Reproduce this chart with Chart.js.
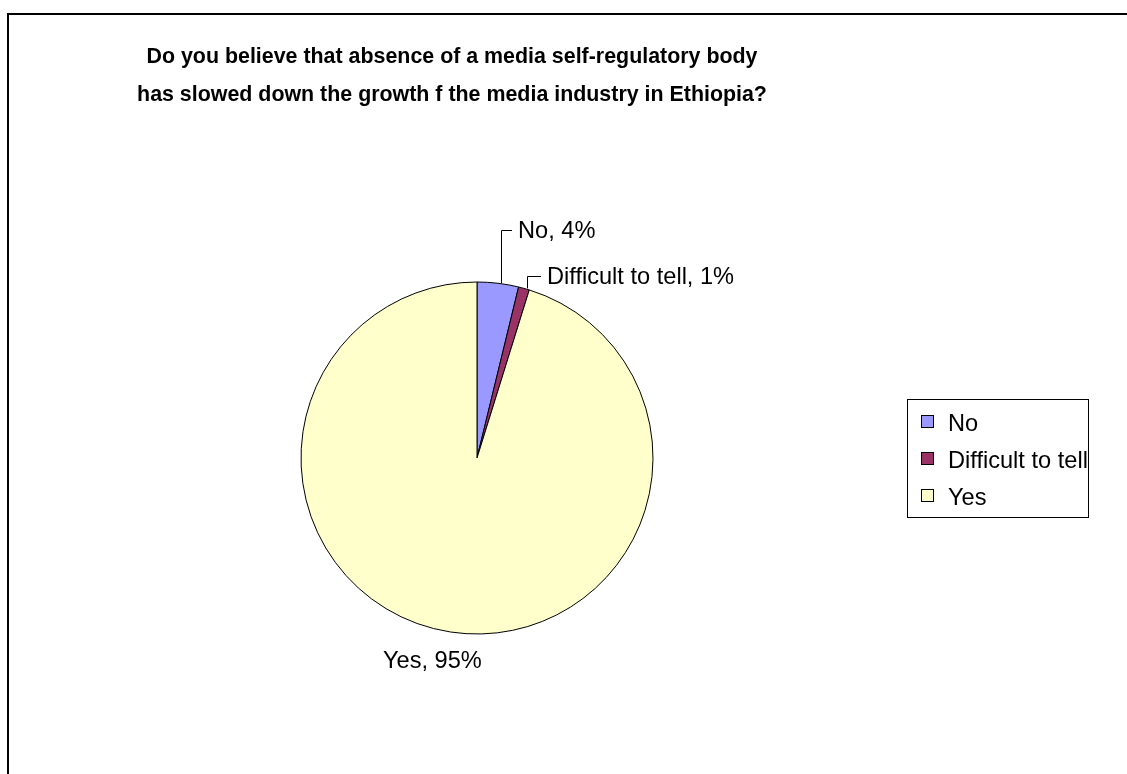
<!DOCTYPE html>
<html>
<head>
<meta charset="utf-8">
<title>Media self-regulatory body</title>
<script src="https://cdn.jsdelivr.net/npm/chart.js@4.4.0/dist/chart.umd.min.js"></script>
<style>
  html, body { margin: 0; padding: 0; background: #fff; }
  canvas { display: block; }
</style>
</head>
<body>
<canvas id="pieChart" width="1127" height="774"></canvas>
<script>
const categories = ["No", "Difficult to tell", "Yes"];
const values = [3.8, 1.0, 95.2];
const colors = ["#9999FF", "#993366", "#FFFFCC"];
const titleLines = [
  "Do you believe that absence of a media self-regulatory body",
  "has slowed down the growth f the media industry in Ethiopia?"
];

const FONT = "'Liberation Sans', Arial, sans-serif";

// where the data labels sit (text left x, baseline y) and whether they get a leader
const labelSpots = [
  { x: 518, y: 238, leader: true },
  { x: 547, y: 284, leader: true },
  { x: 383, y: 668, leader: false }
];

function pct(v) {
  const total = values.reduce((a, b) => a + b, 0);
  return Math.round(v / total * 100) + "%";
}

const decor = {
  id: "decor",
  afterDraw(chart) {
    const ctx = chart.ctx;
    ctx.save();

    // outer frame (only top and left visible)
    ctx.strokeStyle = "#000";
    ctx.lineWidth = 2;
    ctx.beginPath();
    ctx.moveTo(8, 774);
    ctx.lineTo(8, 14);
    ctx.lineTo(1127, 14);
    ctx.stroke();

    // title
    ctx.fillStyle = "#000";
    ctx.font = "bold 21.4px " + FONT;
    ctx.textAlign = "center";
    ctx.textBaseline = "alphabetic";
    ctx.fillText(titleLines[0], 452, 63);
    ctx.fillText(titleLines[1], 452, 101);

    // data labels with leader lines
    const arcs = chart.getDatasetMeta(0).data;
    ctx.font = "23.6px " + FONT;
    ctx.textAlign = "left";
    ctx.lineWidth = 1;
    arcs.forEach((arc, i) => {
      const spot = labelSpots[i];
      const mid = (arc.startAngle + arc.endAngle) / 2;
      if (spot.leader) {
        const mx = Math.round(arc.x + Math.cos(mid) * arc.outerRadius * 1.0) + 3.5;
        const my = arc.y + Math.sin(mid) * arc.outerRadius;
        const ly = Math.round(spot.y - 8) + 0.5;
        ctx.beginPath();
        ctx.moveTo(mx, my);
        ctx.lineTo(mx, ly);
        ctx.lineTo(spot.x - 6, ly);
        ctx.stroke();
      }
      ctx.fillText(categories[i] + ", " + pct(values[i]), spot.x, spot.y);
    });

    // legend box
    ctx.lineWidth = 1;
    ctx.strokeRect(907.5, 399.5, 181, 118);
    ctx.save();
    ctx.beginPath();
    ctx.rect(908, 400, 180, 117);
    ctx.clip();
    categories.forEach((c, i) => {
      const y = 431 + i * 37;
      ctx.fillStyle = colors[i];
      ctx.fillRect(921, y - 16, 12, 12);
      ctx.strokeStyle = "#000";
      ctx.strokeRect(921.5, y - 15.5, 12, 12);
      ctx.fillStyle = "#000";
      ctx.fillText(c, 948, y);
    });
    ctx.restore();

    ctx.restore();
  }
};

new Chart(document.getElementById("pieChart").getContext("2d"), {
  type: "pie",
  data: {
    labels: categories,
    datasets: [{
      data: values,
      backgroundColor: colors,
      borderColor: "#000",
      borderWidth: 1
    }]
  },
  options: {
    responsive: false,
    animation: false,
    layout: {
      padding: { left: 300.5, right: 473.5, top: 281.5, bottom: 139.5 }
    },
    plugins: {
      legend: { display: false },
      title: { display: false },
      tooltip: { enabled: false }
    }
  },
  plugins: [decor]
});
</script>
</body>
</html>
